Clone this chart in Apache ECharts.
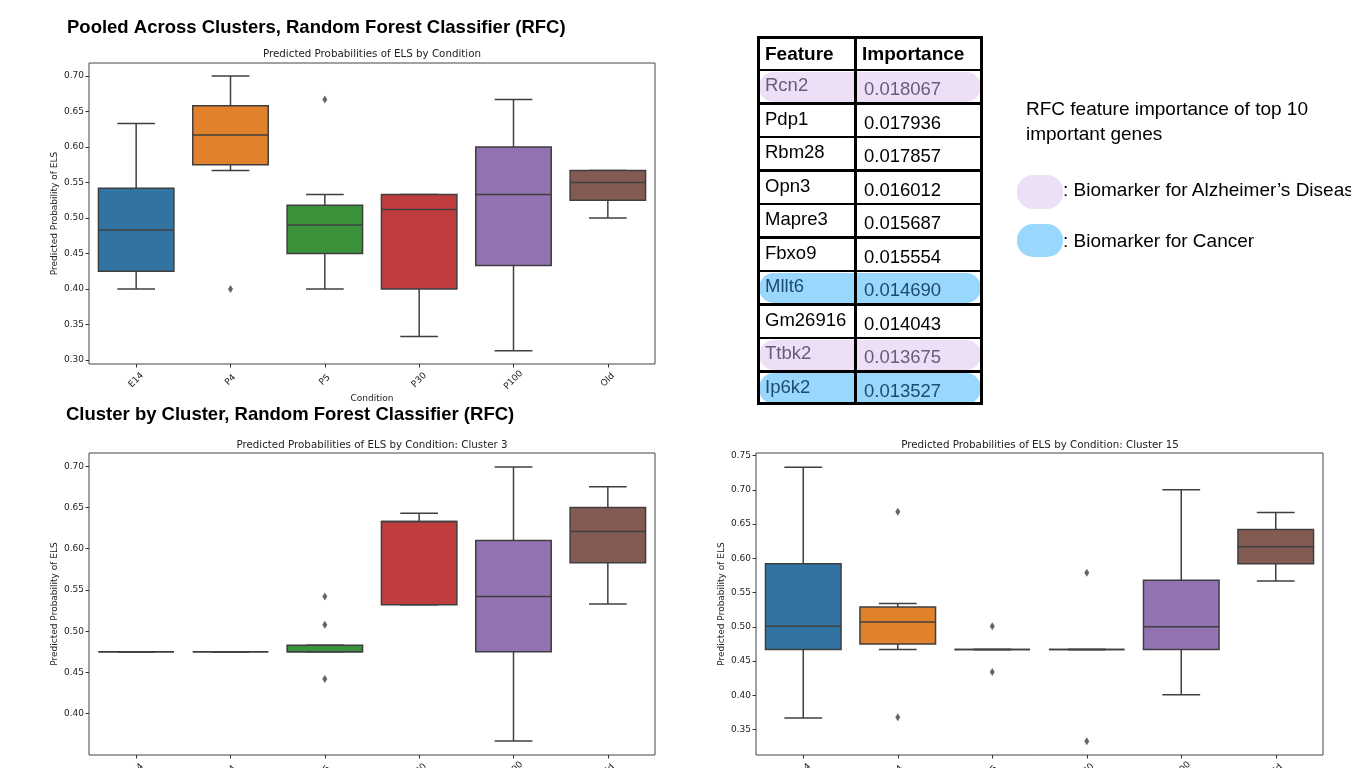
<!DOCTYPE html>
<html>
<head>
<meta charset="utf-8">
<script src="https://cdn.jsdelivr.net/npm/echarts@6/dist/echarts.min.js"></script>
<style>
  html, body { margin:0; padding:0; background:#fff; overflow:hidden; }
  #chart { position:absolute; left:0; top:0; width:1351px; height:768px; }
  #overlay { position:absolute; left:0; top:0; width:1351px; height:768px; overflow:hidden; pointer-events:none;
             font-family:"Liberation Sans", Arial, Helvetica, sans-serif; color:#000; }
  .abs { position:absolute; white-space:nowrap; }
</style>
</head>
<body>
<div id="chart"></div>
<div id="overlay"></div>
<script>
// ---------------- data ----------------
const conditions = ['E14', 'P4', 'P5', 'P30', 'P100', 'Old'];

// [lower whisker, Q1, median, Q3, upper whisker]
const pooledStats = [
  [0.400, 0.425, 0.483, 0.542, 0.633],
  [0.567, 0.575, 0.617, 0.658, 0.700],
  [0.400, 0.450, 0.490, 0.518, 0.533],
  [0.333, 0.400, 0.512, 0.533, 0.533],
  [0.313, 0.433, 0.533, 0.600, 0.667],
  [0.500, 0.525, 0.550, 0.567, 0.567]
];
const pooledOutliers = [[1, 0.400], [2, 0.667]];

const cluster3Stats = [
  [0.475, 0.475, 0.475, 0.475, 0.475],
  [0.475, 0.475, 0.475, 0.475, 0.475],
  [0.475, 0.475, 0.475, 0.483, 0.483],
  [0.532, 0.532, 0.633, 0.633, 0.643],
  [0.367, 0.475, 0.542, 0.610, 0.699],
  [0.533, 0.583, 0.621, 0.650, 0.675]
];
const cluster3Outliers = [[2, 0.542], [2, 0.508], [2, 0.442]];

const cluster15Stats = [
  [0.367, 0.467, 0.501, 0.592, 0.733],
  [0.467, 0.475, 0.507, 0.529, 0.534],
  [0.467, 0.467, 0.467, 0.467, 0.467],
  [0.467, 0.467, 0.467, 0.467, 0.467],
  [0.401, 0.467, 0.500, 0.568, 0.700],
  [0.567, 0.592, 0.617, 0.642, 0.667]
];
const cluster15Outliers = [[1, 0.668], [1, 0.368], [2, 0.501], [2, 0.434], [3, 0.579], [3, 0.333]];

const pooledTicks = [0.30, 0.35, 0.40, 0.45, 0.50, 0.55, 0.60, 0.65, 0.70];
const cluster3Ticks = [0.40, 0.45, 0.50, 0.55, 0.60, 0.65, 0.70];
const cluster15Ticks = [0.35, 0.40, 0.45, 0.50, 0.55, 0.60, 0.65, 0.70, 0.75];

const features = ['Rcn2', 'Pdp1', 'Rbm28', 'Opn3', 'Mapre3', 'Fbxo9', 'Mllt6', 'Gm26916', 'Ttbk2', 'Ip6k2'];
const importances = ['0.018067', '0.017936', '0.017857', '0.016012', '0.015687', '0.015554', '0.014690', '0.014043', '0.013675', '0.013527'];
const biomarker = ['alz', '', '', '', '', '', 'cancer', '', 'alz', 'cancer'];

// ---------------- style ----------------
const boxColors = ['#3274a1', '#e1812c', '#3a923a', '#c03d3e', '#9372b2', '#845b53'];
const edge = '#3f3f3f';
const axisFont = 'DejaVu Sans';

function boxRender(params, api) {
  const i = api.value(0);
  const lo = api.value(1), q1 = api.value(2), med = api.value(3), q3 = api.value(4), hi = api.value(5);
  const band = api.size([1, 0])[0];
  const cx = api.coord([i, med])[0];
  const yLo = api.coord([i, lo])[1], yQ1 = api.coord([i, q1])[1], yMed = api.coord([i, med])[1];
  const yQ3 = api.coord([i, q3])[1], yHi = api.coord([i, hi])[1];
  const bw = band * 0.8, cw = bw / 2;
  const ls = { stroke: edge, lineWidth: 1.5 };
  return {
    type: 'group',
    children: [
      { type: 'line', shape: { x1: cx, y1: yQ1, x2: cx, y2: yLo }, style: ls },
      { type: 'line', shape: { x1: cx, y1: yQ3, x2: cx, y2: yHi }, style: ls },
      { type: 'line', shape: { x1: cx - cw / 2, y1: yLo, x2: cx + cw / 2, y2: yLo }, style: ls },
      { type: 'line', shape: { x1: cx - cw / 2, y1: yHi, x2: cx + cw / 2, y2: yHi }, style: ls },
      { type: 'rect', shape: { x: cx - bw / 2, y: yQ3, width: bw, height: yQ1 - yQ3 },
        style: { fill: boxColors[i], stroke: edge, lineWidth: 1.5 } },
      { type: 'line', shape: { x1: cx - bw / 2, y1: yMed, x2: cx + bw / 2, y2: yMed }, style: ls }
    ]
  };
}

function boxData(stats) { return stats.map((s, i) => [i].concat(s)); }

function yAxisCfg(idx, min, max, ticks, nameGap) {
  return {
    type: 'value', gridIndex: idx, min: min, max: max,
    name: 'Predicted Probability of ELS', nameLocation: 'middle', nameGap: nameGap,
    nameTextStyle: { fontFamily: axisFont, fontSize: 9, color: '#222' },
    axisLine: { show: false },
    splitLine: { show: false },
    axisTick: { show: true, inside: false, length: 3.5, customValues: ticks, lineStyle: { color: '#333', width: 1 } },
    axisLabel: { customValues: ticks, formatter: v => v.toFixed(2), fontFamily: axisFont, fontSize: 9, color: '#222', margin: 5 }
  };
}
function xAxisCfg(idx, withName) {
  const c = {
    type: 'category', gridIndex: idx, data: conditions, boundaryGap: true,
    axisLine: { show: false },
    axisTick: { show: true, alignWithLabel: true, length: 3.5, lineStyle: { color: '#333', width: 1 } },
    axisLabel: { rotate: 45, align: 'center', verticalAlign: 'middle', fontFamily: axisFont, fontSize: 9, color: '#222', margin: 16 },
    splitLine: { show: false }
  };
  if (withName) {
    c.name = 'Condition'; c.nameLocation = 'middle'; c.nameGap = 29;
    c.nameTextStyle = { fontFamily: axisFont, fontSize: 9, color: '#222' };
  }
  return c;
}
const gridStyle = { show: true, borderColor: '#444', borderWidth: 1, backgroundColor: 'transparent',
                    containLabel: false, outerBoundsMode: 'none' };

const option = {
  animation: false,
  grid: [
    Object.assign({ left: 89, top: 63, width: 566, height: 301 }, gridStyle),
    Object.assign({ left: 89, top: 453, width: 566, height: 302 }, gridStyle),
    Object.assign({ left: 756, top: 453, width: 567, height: 302 }, gridStyle)
  ],
  xAxis: [xAxisCfg(0, true), xAxisCfg(1, false), xAxisCfg(2, false)],
  yAxis: [
    yAxisCfg(0, 0.2944, 0.7183, pooledTicks, 30),
    yAxisCfg(1, 0.3500, 0.7160, cluster3Ticks, 30),
    yAxisCfg(2, 0.3130, 0.7537, cluster15Ticks, 30)
  ],
  graphic: [
    { type: 'text', x: 67, y: 28, style: { text: 'Pooled Across Clusters, Random Forest Classifier (RFC)',
      font: 'bold 18.5px "Liberation Sans", Arial, sans-serif', fill: '#000', verticalAlign: 'middle' } },
    { type: 'text', x: 66, y: 415, style: { text: 'Cluster by Cluster, Random Forest Classifier (RFC)',
      font: 'bold 18.5px "Liberation Sans", Arial, sans-serif', fill: '#000', verticalAlign: 'middle' } },
    { type: 'text', x: 372, y: 54, style: { text: 'Predicted Probabilities of ELS by Condition',
      font: '10.3px "DejaVu Sans"', fill: '#222', align: 'center', verticalAlign: 'middle' } },
    { type: 'text', x: 372, y: 445, style: { text: 'Predicted Probabilities of ELS by Condition: Cluster 3',
      font: '10.3px "DejaVu Sans"', fill: '#222', align: 'center', verticalAlign: 'middle' } },
    { type: 'text', x: 1040, y: 445, style: { text: 'Predicted Probabilities of ELS by Condition: Cluster 15',
      font: '10.3px "DejaVu Sans"', fill: '#222', align: 'center', verticalAlign: 'middle' } }
  ],
  series: []
};

[[pooledStats, pooledOutliers], [cluster3Stats, cluster3Outliers], [cluster15Stats, cluster15Outliers]].forEach((p, k) => {
  option.series.push({
    type: 'custom', xAxisIndex: k, yAxisIndex: k, renderItem: boxRender,
    encode: { x: 0, y: [1, 2, 3, 4, 5] }, data: boxData(p[0]), clip: false, z: 2
  });
  option.series.push({
    type: 'scatter', xAxisIndex: k, yAxisIndex: k, data: p[1], symbol: 'diamond', symbolSize: [5, 8],
    itemStyle: { color: '#3f3f3f' }, z: 3
  });
});

const chart = echarts.init(document.getElementById('chart'), null, { renderer: 'canvas' });
chart.setOption(option);

// ---------------- table & legend (HTML text) ----------------
const ov = document.getElementById('overlay');
function add(html, css) { const d = document.createElement('div'); d.className = 'abs'; d.style.cssText = css; d.innerHTML = html; ov.appendChild(d); return d; }

const tL = 757, tT = 36, c1 = 98, c2 = 128, hH = 34, rH = 33.5;
const tW = c1 + c2, tH = hH + rH * features.length;
const pillCol = { alz: '#EDDFF6', cancer: '#9AD7FC' };
const txtCol = { alz: '#6a5a7c', cancer: '#1d4a70', '': '#000' };

features.forEach((f, r) => {
  const y = tT + hH + r * rH;
  const b = biomarker[r];
  if (b) add('', `left:${tL + 2}px;top:${y + 1.5}px;width:${tW - 4}px;height:${rH - 3}px;border-radius:15px;background:${pillCol[b]};`);
  add(f, `left:${tL + 8}px;top:${y}px;height:${rH}px;line-height:${rH - 3}px;font-size:18.5px;color:${txtCol[b]};`);
  add(importances[r], `left:${tL + c1 + 9}px;top:${y}px;height:${rH}px;line-height:${rH + 4}px;font-size:18.5px;color:${txtCol[b]};`);
});
add('Feature', `left:${tL + 8}px;top:${tT}px;height:${hH}px;line-height:${hH + 2}px;font-size:19px;font-weight:bold;`);
add('Importance', `left:${tL + c1 + 7}px;top:${tT}px;height:${hH}px;line-height:${hH + 2}px;font-size:19px;font-weight:bold;`);
// grid lines
add('', `left:${tL}px;top:${tT}px;width:${tW}px;height:${tH}px;border:3px solid #000;box-sizing:border-box;`);
add('', `left:${tL + c1 - 1}px;top:${tT}px;width:2.5px;height:${tH}px;background:#000;`);
for (let r = 0; r < features.length; r++) {
  const y = tT + hH + r * rH;
  add('', `left:${tL}px;top:${y - 1.25}px;width:${tW}px;height:2.5px;background:#000;`);
}

// description + legend
add('RFC feature importance of top 10<br>important genes', 'left:1026px;top:96px;font-size:19px;line-height:25px;color:#000;');
add('', 'left:1017px;top:175px;width:46px;height:34px;border-radius:16px;background:#EDDFF6;');
add(': Biomarker for Alzheimer’s Disease', 'left:1063px;top:177px;font-size:19px;line-height:25px;color:#000;');
add('', 'left:1017px;top:224px;width:46px;height:33px;border-radius:16px;background:#9AD7FC;');
add(': Biomarker for Cancer', 'left:1063px;top:228px;font-size:19px;line-height:25px;color:#000;');
</script>
</body>
</html>
